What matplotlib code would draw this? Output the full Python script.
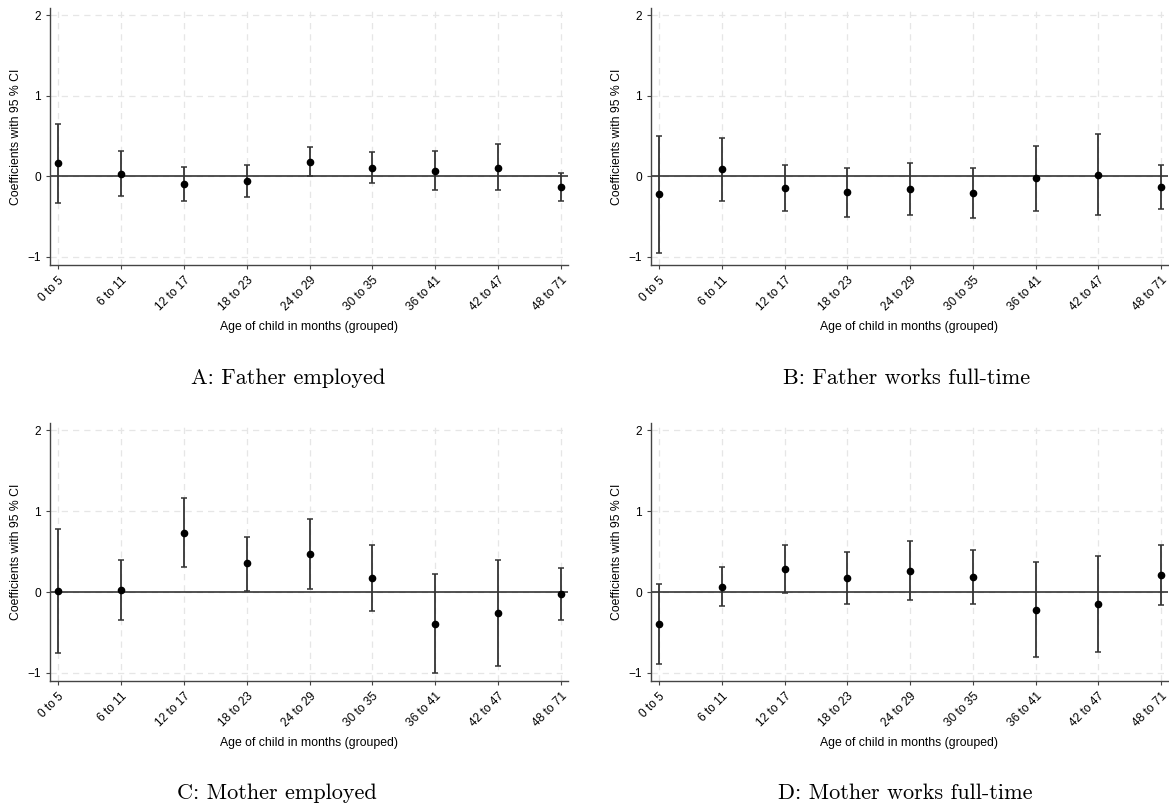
import numpy as np
import matplotlib.pyplot as plt

age_groups = ["0 to 5", "6 to 11", "12 to 17", "18 to 23", "24 to 29",
              "30 to 35", "36 to 41", "42 to 47", "48 to 71"]

# A: Father employed
coef_a = [0.16, 0.03, -0.09, -0.06, 0.18, 0.11, 0.07, 0.11, -0.13]
lo_a = [-0.33, -0.24, -0.30, -0.26, 0.00, -0.08, -0.17, -0.17, -0.30]
hi_a = [0.65, 0.31, 0.12, 0.145, 0.36, 0.30, 0.31, 0.40, 0.045]

# B: Father works full-time
coef_b = [-0.22, 0.09, -0.145, -0.20, -0.157, -0.21, -0.025, 0.017, -0.13]
lo_b = [-0.95, -0.30, -0.43, -0.51, -0.475, -0.52, -0.43, -0.475, -0.40]
hi_b = [0.50, 0.48, 0.14, 0.11, 0.16, 0.11, 0.38, 0.52, 0.14]

# C: Mother employed
coef_c = [0.01, 0.025, 0.735, 0.355, 0.47, 0.17, -0.39, -0.26, -0.02]
lo_c = [-0.75, -0.34, 0.31, 0.012, 0.04, -0.235, -1.0, -0.92, -0.34]
hi_c = [0.785, 0.39, 1.165, 0.685, 0.90, 0.58, 0.227, 0.40, 0.30]

# D: Mother works full-time
coef_d = [-0.39, 0.066, 0.285, 0.17, 0.265, 0.186, -0.22, -0.145, 0.21]
lo_d = [-0.89, -0.17, -0.008, -0.145, -0.10, -0.15, -0.805, -0.74, -0.165]
hi_d = [0.10, 0.306, 0.58, 0.49, 0.63, 0.52, 0.37, 0.45, 0.587]

captions = ["A: Father employed", "B: Father works full-time",
            "C: Mother employed", "D: Mother works full-time"]

W, H = 1169, 807
fig = plt.figure(figsize=(W / 100, H / 100), dpi=100)
plt.rcParams['font.family'] = ['Liberation Sans', 'DejaVu Sans']


def panel(rect, coef, lo, hi, caption, cap_xy):
    l, t, r, b = rect
    ax = fig.add_axes([l / W, 1 - b / H, (r - l) / W, (b - t) / H])
    x = np.arange(len(age_groups))
    coef = np.array(coef); lo = np.array(lo); hi = np.array(hi)
    ax.axhline(0, color='#222222', lw=1.1, zorder=2)
    ax.errorbar(x, coef, yerr=[coef - lo, hi - coef], fmt='o', color='black',
                ecolor='#333333', elinewidth=1.3, capsize=2.5, capthick=1.1,
                markersize=4.5, zorder=3)
    ax.set_xlim(-0.13, 8.11)
    ax.set_ylim(-1.1, 2.09)
    ax.set_yticks([-1, 0, 1, 2])
    ax.set_xticks(x)
    ax.set_xticklabels(age_groups, rotation=45, ha='right', rotation_mode='anchor',
                       fontsize=8.6)
    ax.tick_params(axis='y', labelsize=8.6, length=3, color='#444444')
    ax.tick_params(axis='x', length=3, color='#444444', pad=4)
    ax.grid(True, linestyle=(0, (5, 4)), color='#e6e6e6', lw=0.9, zorder=0)
    for s in ['top', 'right']:
        ax.spines[s].set_visible(False)
    for s in ['left', 'bottom']:
        ax.spines[s].set_color('#444444')
        ax.spines[s].set_linewidth(1.0)
    ax.set_xlabel("Age of child in months (grouped)", fontsize=8.8, labelpad=5)
    ax.set_ylabel("Coefficients with 95 % CI", fontsize=8.8, labelpad=4)
    fig.text(cap_xy[0] / W, 1 - cap_xy[1] / H, caption, family='cmr10',
             fontsize=16, ha='center', va='center')


panel((50, 8, 568, 265), coef_a, lo_a, hi_a, captions[0], (288, 378))
panel((651, 8, 1168, 265), coef_b, lo_b, hi_b, captions[1], (907, 378))
panel((50, 423, 568, 681), coef_c, lo_c, hi_c, captions[2], (277, 793))
panel((651, 423, 1168, 681), coef_d, lo_d, hi_d, captions[3], (905, 793))

fig.savefig("out.png", dpi=100)
